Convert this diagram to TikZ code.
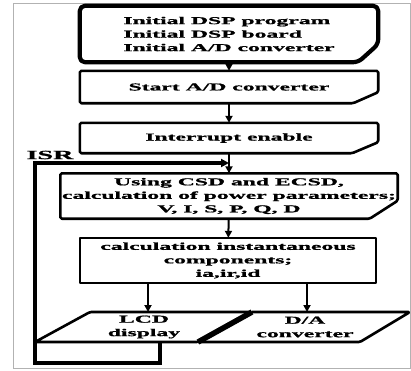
\documentclass[tikz,border=0pt]{standalone}
\usepackage{fontspec}
\usetikzlibrary{arrows.meta}
\newfontfamily\flowfont{Liberation Serif}[FakeStretch=2.25, FakeBold=1.2]

\begin{document}
\begin{tikzpicture}[x=1pt,y=-1pt,
    block/.style={inner sep=0pt, align=center, font=\flowfont\bfseries\fontsize{10.5}{13.5}\selectfont},
    outline/.style={line width=2.6pt, line join=round, rounded corners=1.5pt},
    link/.style={line width=2pt, -{Triangle[length=7pt,width=7pt]}},
    feedback/.style={line width=3.4pt, line join=miter, -{Triangle[length=8pt,width=8pt]}}]
  \useasboundingbox (0,0) rectangle (411,370);
  \draw[gray!60, line width=0.5pt] (13,3.5) rectangle (410.5,368);

  % process blocks
  \node[block, align=left, minimum width=298pt, minimum height=56pt] (init) at (229,34)
    {Initial DSP program\\Initial DSP board\\Initial A/D converter};
  \node[block, minimum width=298pt, minimum height=32pt] (start) at (229,87) {Start A/D converter};
  \node[block, minimum width=298pt, minimum height=30pt] (irq) at (229,138) {Interrupt enable};
  \node[block, minimum width=337pt, minimum height=45pt] (csd) at (229,196)
    {Using CSD and ECSD,\\calculation of power parameters;\\V, I, S, P, Q, D};
  \node[block, minimum width=296pt, minimum height=45pt] (inst) at (228,260.5)
    {calculation instantaneous\\components;\\ia,ir,id};
  \node[block] (lcd) at (144,327) {LCD\\display};
  \node[block] (da) at (305,327) {D/A\\converter};
  \node[block, font=\flowfont\bfseries\fontsize{12.5}{14}\selectfont] (isr) at (50,155) {ISR};

  % outlines
  \draw[outline, line width=4.2pt, rounded corners=5pt] (init.north west) -- (init.north east)
    -- ([yshift=18pt]init.south east) -- ([xshift=-20pt]init.south east) -- (init.south west) -- cycle;
  \foreach \b/\cx/\cy in {start/25/11, irq/26/11, csd/28/18}
    \draw[outline] (\b.north west) -- (\b.north east) -- ([yshift=\cy pt]\b.south east)
      -- ([xshift=-\cx pt]\b.south east) -- (\b.south west) -- cycle;
  \draw[outline, line width=2.2pt, rounded corners=0pt] (inst.north west) rectangle (inst.south east);

  % output parallelograms
  \draw[outline] (90,312) -- (252,312) -- (198,342) -- (35,342) -- cycle;
  \draw[outline] (252,312) -- (410,312) -- (360,342) -- (198,342);
  \draw[line width=5.5pt] (252,312) -- (198,342);

  % flow
  \coordinate (lcdin) at (148,312);
  \coordinate (dain) at (307,312);
  \coordinate (lcdout) at (160,342);
  \coordinate (merge) at (229,163);
  \draw[link] (init) -- (start);
  \draw[link] (start) -- (irq);
  \draw[link] (irq) -- (csd);
  \draw[link] (csd) -- (inst);
  \draw[link] (inst.south -| lcdin) -- (lcdin);
  \draw[link] (inst.south -| dain) -- (dain);
  \draw[feedback] (lcdout) -- (160,363) -- (35,363) -- (35,163) -- (merge);
\end{tikzpicture}
\end{document}
